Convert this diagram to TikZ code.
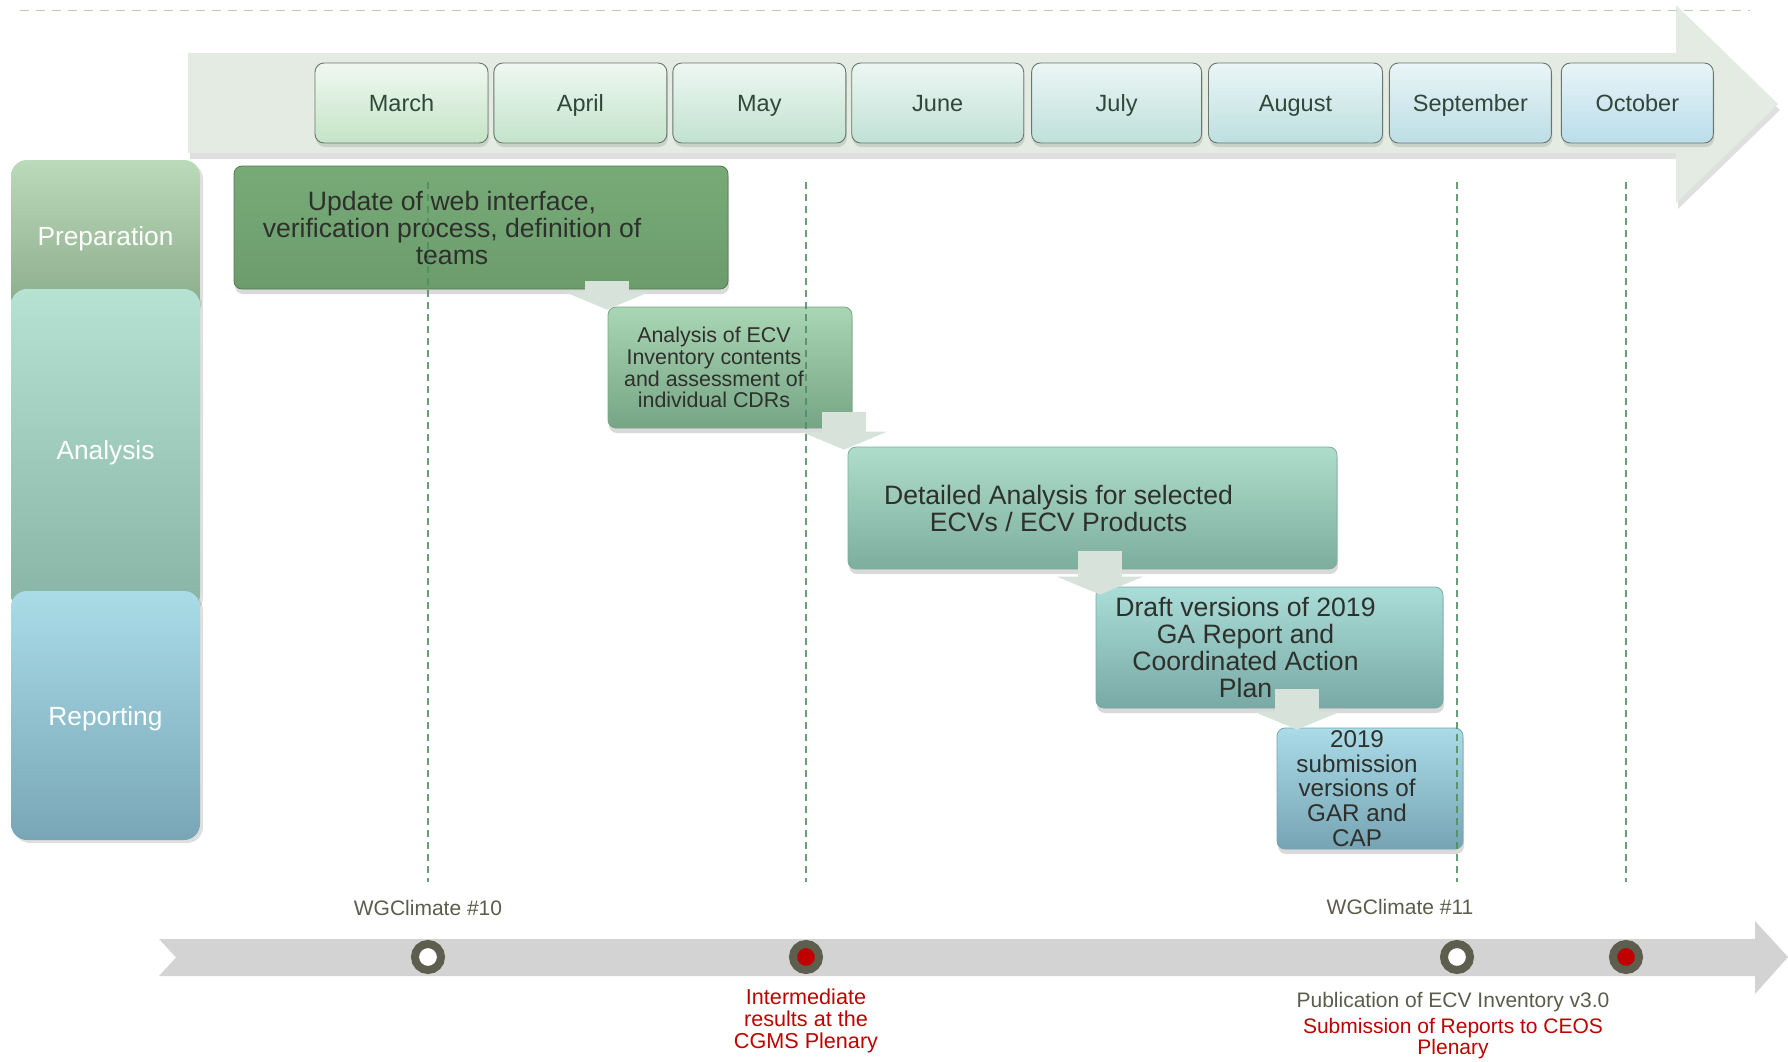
\documentclass[tikz,border=0pt]{standalone}
\usepackage{fontspec}
\setmainfont{Liberation Sans}
\usetikzlibrary{positioning, arrows.meta, shadows}

\definecolor{axisfill}{HTML}{E3EBE3}
\definecolor{topdash}{HTML}{B5CEB5}
\definecolor{monthline}{HTML}{6A766C}
\definecolor{monthtext}{HTML}{30473A}
\definecolor{mtopg}{HTML}{F0F8F0}
\definecolor{mtopb}{HTML}{E8F4F8}
\definecolor{mbotg}{HTML}{C4E4C6}
\definecolor{mbotb}{HTML}{BADDEA}
\definecolor{textdark}{HTML}{2E302C}
\definecolor{preptop}{HTML}{BBDABA}
\definecolor{prepbot}{HTML}{8AAB8A}
\definecolor{anatop}{HTML}{B5E2D2}
\definecolor{anabot}{HTML}{88B4A6}
\definecolor{reptop}{HTML}{AADCE8}
\definecolor{repbot}{HTML}{78A6B6}
\definecolor{taskAtop}{HTML}{78AA78}
\definecolor{taskAbot}{HTML}{6C9C6C}
\definecolor{taskAline}{HTML}{4F7C4F}
\definecolor{taskBtop}{HTML}{A9D6B4}
\definecolor{taskBbot}{HTML}{76A585}
\definecolor{taskCtop}{HTML}{AEDDCB}
\definecolor{taskCbot}{HTML}{7DAD9D}
\definecolor{taskDtop}{HTML}{AADDD8}
\definecolor{taskDbot}{HTML}{78A9A5}
\definecolor{taskEtop}{HTML}{AADBE7}
\definecolor{taskEbot}{HTML}{76A4B4}
\definecolor{flowarrow}{HTML}{D6E2DA}
\definecolor{guideline}{HTML}{4E8E5E}
\definecolor{timeaxis}{HTML}{D3D3D3}
\definecolor{ringgray}{HTML}{5E5E4F}
\definecolor{milered}{HTML}{C00000}
\definecolor{notegray}{HTML}{5C5C4C}

\begin{document}
\begin{tikzpicture}[x=1pt, y=-1pt,
    month/.style={draw=monthline, line width=0.9pt, rounded corners=9pt, minimum height=80pt, inner sep=0pt, text height=17pt, text depth=0pt, font=\fontsize{23.5}{27}\selectfont, text=monthtext, drop shadow={shadow xshift=1pt, shadow yshift=-4pt, opacity=0.25}},
    phasebox/.style={rounded corners=16pt, minimum width=189pt, inner sep=0pt, text height=19pt, text depth=0pt, font=\fontsize{26.3}{27}\selectfont, text=white, drop shadow={shadow xshift=3pt, shadow yshift=-3pt, opacity=0.25}},
    task/.style={line width=0.8pt, rounded corners=8pt, inner sep=0pt, drop shadow={shadow xshift=1pt, shadow yshift=-5pt, opacity=0.3}},
    tasktext/.style={align=center, inner sep=0pt, text=textdark, font=\fontsize{26.6}{27}\selectfont},
    flow/.style={draw=flowarrow, line width=44pt, -{Triangle[length=18pt, width=86pt]}},
    guide/.style={draw=guideline, line width=1.2pt, dash pattern=on 7pt off 5pt, draw opacity=0.85},
    milestone/.style={circle, draw=ringgray, line width=8pt, minimum size=26pt, inner sep=0pt},
    note/.style={align=center, inner sep=0pt, text=notegray, font=\fontsize{21}{22}\selectfont},
]
    \useasboundingbox (0,0) rectangle (1788,1061);
    \clip (0,0) rectangle (1788,1061);

    % Month axis
    \fill[axisfill, drop shadow={shadow xshift=2pt, shadow yshift=-6pt, opacity=0.25}] (188,53) -- (1676,53) -- (1676,5) -- (1778,104) -- (1676,203) -- (1676,153) -- (188,153) -- cycle;
    \draw[topdash, line width=1.2pt, dash pattern=on 9pt off 7pt] (20,10.5) -- (1750,10.5);

    % Months
    \node[month, minimum width=173pt, top color=mtopg, bottom color=mbotg] (march) at (401.5,103) {March};
    \node[month, minimum width=173pt, top color=mtopg!86!mtopb, bottom color=mbotg!86!mbotb, right=5pt of march] (april) {April};
    \node[month, minimum width=173pt, top color=mtopg!71!mtopb, bottom color=mbotg!71!mbotb, right=5pt of april] (may) {May};
    \node[month, minimum width=172pt, top color=mtopg!57!mtopb, bottom color=mbotg!57!mbotb, right=5pt of may] (june) {June};
    \node[month, minimum width=170pt, top color=mtopg!43!mtopb, bottom color=mbotg!43!mbotb, right=7pt of june] (july) {July};
    \node[month, minimum width=174pt, top color=mtopg!29!mtopb, bottom color=mbotg!29!mbotb, right=6pt of july] (august) {August};
    \node[month, minimum width=162pt, top color=mtopg!14!mtopb, bottom color=mbotg!14!mbotb, right=6pt of august] (september) {September};
    \node[month, minimum width=152pt, top color=mtopb, bottom color=mbotb, right=9pt of september] (october) {October};

    % Phases
    \node[phasebox, minimum height=152pt, top color=preptop, bottom color=prepbot] (prep) at (105.5,236) {Preparation};
    \node[phasebox, minimum height=322pt, top color=anatop, bottom color=anabot] (ana) at (105.5,450) {Analysis};
    \node[phasebox, minimum height=249pt, top color=reptop, bottom color=repbot] (rep) at (105.5,715.5) {Reporting};

    % Tasks
    \node[task, draw=taskAline, top color=taskAtop, bottom color=taskAbot, minimum width=494pt, minimum height=123pt] (update) at (481,227.5) {};
    \node[tasktext] (updatetext) at ([xshift=-29pt]update.center) {Update of web interface,\\verification process, definition of\\teams};

    \node[task, draw=taskBbot, top color=taskBtop, bottom color=taskBbot, minimum width=244pt, minimum height=121pt] (inventory) at (730,367.5) {};
    \node[tasktext, font=\fontsize{21.4}{21.8}\selectfont] (inventorytext) at ([xshift=-16pt]inventory.center) {Analysis of ECV\\Inventory contents\\and assessment of\\individual CDRs};

    \node[task, draw=taskCbot, top color=taskCtop, bottom color=taskCbot, minimum width=489pt, minimum height=122pt] (detailed) at (1092.5,508) {};
    \node[tasktext] (detailedtext) at ([xshift=-34pt]detailed.center) {Detailed Analysis for selected\\ECVs / ECV Products};

    \node[task, draw=taskDbot, top color=taskDtop, bottom color=taskDbot, minimum width=347pt, minimum height=121pt] (draft) at (1269.5,647.5) {};
    \node[tasktext, font=\fontsize{26.6}{27.3}\selectfont] (drafttext) at ([xshift=-24pt]draft.center) {Draft versions of 2019\\GA Report and\\Coordinated Action\\Plan};

    \node[task, draw=taskEbot, top color=taskEtop, bottom color=taskEbot, minimum width=186pt, minimum height=121pt] (submission) at (1370,788.5) {};
    \node[tasktext, font=\fontsize{24.2}{24.7}\selectfont] (submissiontext) at ([xshift=-13pt]submission.center) {2019\\submission\\versions of\\GAR and\\CAP};

    % Flow between tasks
    \draw[flow] ([xshift=126pt, yshift=8pt]update.south) -- ([xshift=-123pt, yshift=-3pt]inventory.north);
    \draw[flow] ([xshift=114pt, yshift=16pt]inventory.south) -- ([xshift=-248.5pt, yshift=-3pt]detailed.north);
    \draw[flow] ([xshift=7.5pt, yshift=18pt]detailed.south) -- ([xshift=-169.5pt, yshift=-8pt]draft.north);
    \draw[flow] ([xshift=27.5pt, yshift=19pt]draft.south) -- ([xshift=-73pt, yshift=-2pt]submission.north);

    % Milestone axis
    \fill[timeaxis] (159,939) -- (1755,939) -- (1755,921) -- (1788,957) -- (1755,994) -- (1755,976) -- (159,976) -- (176,957.5) -- cycle;
    \node[milestone, fill=white] (wg10) at (428,957) {};
    \node[milestone, fill=milered] (cgms) at (806,957) {};
    \node[milestone, fill=white] (wg11) at (1457,957) {};
    \node[milestone, fill=milered] (ceos) at (1626,957) {};

    % Guides
    \coordinate (guidetop) at (0,182);
    \coordinate (guidebot) at (0,882);
    \draw[guide] (wg10 |- guidetop) -- (wg10 |- guidebot);
    \draw[guide] (cgms |- guidetop) -- (cgms |- guidebot);
    \draw[guide] (wg11 |- guidetop) -- (wg11 |- guidebot);
    \draw[guide] (ceos |- guidetop) -- (ceos |- guidebot);

    % Milestone labels
    \node[note] (wg10label) at (428,908) {WGClimate \#10};
    \node[note] (wg11label) at (1400,907) {WGClimate \#11};
    \node[note, text=milered, font=\fontsize{21.6}{22}\selectfont] (cgmslabel) at (806,1021) {Intermediate\\results at the\\CGMS Plenary};
    \node[note] (publabel) at (1453,1002) {Publication of ECV Inventory v3.0};
    \node[note, text=milered, font=\fontsize{21}{21}\selectfont] (ceoslabel) at (1453,1039) {Submission of Reports to CEOS\\Plenary};
\end{tikzpicture}
\end{document}
